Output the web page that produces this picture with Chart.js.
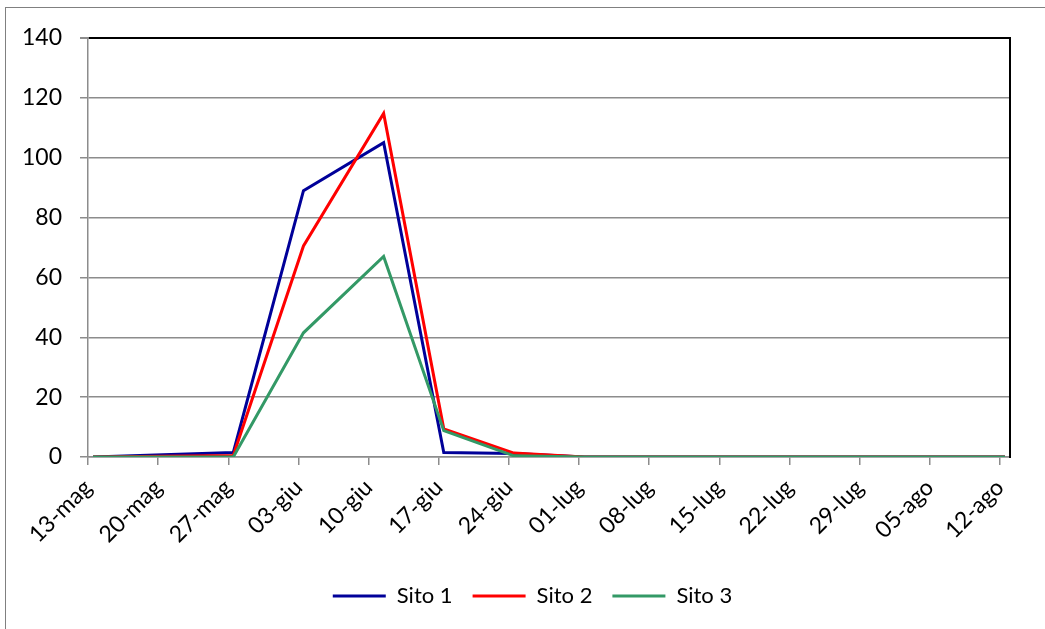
<!DOCTYPE html>
<html>
<head>
<meta charset="utf-8">
<script src="https://cdn.jsdelivr.net/npm/chart.js@4/dist/chart.umd.min.js"></script>
<style>
  html, body { margin: 0; padding: 0; background: #fff; overflow: hidden; }
  #wrap { position: relative; width: 1045px; height: 629px; }
  #frame { position: absolute; left: 5px; top: 7px; width: 1100px; height: 700px; border: 1.5px solid #808080; box-sizing: border-box; }
  canvas { position: absolute; left: 0; top: 0; }
</style>
</head>
<body>
<div id="wrap">
  <div id="frame"></div>
  <canvas id="c" width="1045" height="629"></canvas>
</div>
<script>
// Tick labels (weekly) of the date axis
const tickLabels = ['13-mag','20-mag','27-mag','03-giu','10-giu','17-giu','24-giu','01-lug','08-lug','15-lug','22-lug','29-lug','05-ago','12-ago'];
// Sampling days, counted from 13-mag
const sampleDays = [0, 14, 21, 29, 35, 42, 49, 56, 63, 70, 77, 84, 91];
// Series values
const sito1 = [0, 1.5, 89, 105, 1.5, 1.2, 0, 0, 0, 0, 0, 0, 0];
const sito2 = [0, 0.5, 70.5, 114.8, 9.4, 1.3, 0, 0, 0, 0, 0, 0, 0];
const sito3 = [0, 0, 41.5, 67, 8.8, 0.4, 0, 0, 0, 0, 0, 0, 0];
const yTicks = [0, 20, 40, 60, 80, 100, 120, 140];

const FONT = 'Lato, "Liberation Sans", sans-serif';
const GRID = '#8c8c8c';

// Excel date axis: points sit in the middle of their day slot
const pts = arr => arr.map((v, i) => ({ x: sampleDays[i] + 0.5, y: v }));

// later series drawn on top (as in the original)
const mk = (label, data, color, order) => ({
  label, data: pts(data), borderColor: color, backgroundColor: color,
  borderWidth: 3, pointRadius: 0, tension: 0, fill: false, order
});

new Chart(document.getElementById('c'), {
  type: 'line',
  data: {
    datasets: [
      mk('Sito 1', sito1, '#000099', 3),
      mk('Sito 2', sito2, '#ff0000', 2),
      mk('Sito 3', sito3, '#339966', 1)
    ]
  },
  options: {
    responsive: false,
    animation: false,
    devicePixelRatio: 1,
    layout: { padding: { left: 20, right: 0, top: 38, bottom: 12 } },
    plugins: {
      legend: {
        position: 'bottom',
        labels: {
          usePointStyle: true,
          pointStyle: 'line',
          pointStyleWidth: 53,
          padding: 20,
          color: '#000',
          font: { family: FONT, size: 22 },
          sort: (a, b) => a.datasetIndex - b.datasetIndex
        }
      },
      tooltip: { enabled: false }
    },
    scales: {
      x: {
        type: 'linear',
        min: 0,
        max: 92,
        afterBuildTicks: s => { s.ticks = tickLabels.map((_, i) => ({ value: i * 7 })); },
        afterFit: s => { s.height = 108; },
        ticks: {
          autoSkip: false,
          maxRotation: 45,
          minRotation: 45,
          padding: 9,
          color: '#000',
          font: { family: FONT, size: 23 },
          callback: v => tickLabels[Math.round(v / 7)]
        },
        grid: { drawOnChartArea: false, drawTicks: true, tickLength: 8, tickColor: GRID, lineWidth: 1.5 },
        border: { color: GRID, width: 1.5 }
      },
      y: {
        min: 0,
        max: 140,
        afterBuildTicks: s => { s.ticks = yTicks.map(v => ({ value: v })); },
        afterFit: s => { s.width = 68; },
        ticks: {
          padding: 18,
          color: '#000',
          font: { family: FONT, size: 23 }
        },
        grid: {
          color: c => (c.tick && c.tick.value === 140) ? '#000' : GRID,
          lineWidth: c => (c.tick && c.tick.value === 140) ? 2 : 1.5,
          tickColor: GRID,
          tickLength: 8
        },
        border: { color: GRID, width: 1.5 }
      },
      y2: {
        position: 'right',
        display: true,
        min: 0,
        max: 140,
        afterFit: s => { s.width = 35; },
        ticks: { display: false },
        grid: { display: false, drawTicks: false },
        border: { display: true, color: '#000', width: 2 }
      }
    }
  }
});
</script>
</body>
</html>
